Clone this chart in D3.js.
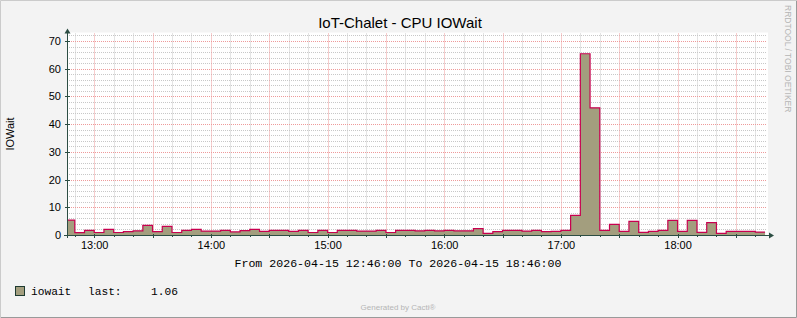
<!DOCTYPE html>
<html><head><meta charset="utf-8">
<script src="https://cdn.jsdelivr.net/npm/d3@7"></script>
<style>
html,body{margin:0;padding:0;background:#F3F3F3;}
svg{display:block;}
</style></head>
<body>
<svg id="c" width="797" height="318"></svg>
<script>
// ---- data ----
const title = "IoT-Chalet - CPU IOWait";
const yLabel = "IOWait";
const seriesName = "iowait";
const lastLabel = "last:";
const lastValue = "1.06";
const periodText = "From 2026-04-15 12:46:00 To 2026-04-15 18:46:00";
const startTime = new Date(2026, 3, 15, 12, 46);
const endTime = new Date(2026, 3, 15, 18, 46);
const firstBucketEnd = new Date(2026, 3, 15, 12, 50);
const stepMinutes = 5;
// one value per 5-minute bucket, 12:45-12:50 ... 18:40-18:45
const iowait = [
  5.4, 0.85, 1.7, 0.9, 2.0, 0.9, 1.2, 1.5, 3.5, 1.2,
  3.1, 0.9, 1.7, 2.0, 1.4, 1.4, 1.7, 1.1, 1.6, 2.0,
  1.3, 1.7, 1.7, 1.3, 1.7, 0.9, 1.7, 0.9, 1.7, 1.7,
  1.4, 1.4, 1.7, 0.9, 1.7, 1.7, 1.5, 1.7, 1.5, 1.7,
  1.5, 1.5, 2.3, 0.6, 1.2, 1.7, 1.7, 1.4, 1.7, 1.2,
  1.3, 1.7, 7.1, 65.4, 45.9, 1.7, 3.85, 1.3, 4.9, 0.95,
  1.3, 1.7, 5.3, 1.3, 5.3, 0.95, 4.5, 0.6, 1.3, 1.3,
  1.3, 1.06
];
const yTicks = [0, 10, 20, 30, 40, 50, 60, 70];
const yMax = 72.7;

// ---- layout ----
const W = 797, H = 318;
const L = 67, R = 767, T = 33.5, B = 235;
const svg = d3.select("#c");
const sans = "'Liberation Sans', Arial, sans-serif";
const mono = "'Liberation Mono', 'DejaVu Sans Mono', monospace";

// border
svg.append("rect").attr("x",0).attr("y",0).attr("width",W).attr("height",H).attr("fill","#F3F3F3");
svg.append("path").attr("d",`M0.5,${H}V0.5H${W}`).attr("stroke","#CBCBCB").attr("fill","none").attr("stroke-width",1);
svg.append("path").attr("d",`M1,${H-0.5}H${W-0.5}V1`).attr("stroke","#999999").attr("fill","none").attr("stroke-width",1);

const x = d3.scaleTime().domain([startTime, endTime]).range([L, R]);
const y = d3.scaleLinear().domain([0, yMax]).range([B, T]);

// canvas
svg.append("rect").attr("x",L).attr("y",T-1).attr("width",R-L+1).attr("height",B-T+1).attr("fill","#FFFFFF");

// grid
const g = svg.append("g");
const minorY = d3.range(2, yMax, 2).filter(v => v % 10 !== 0);
g.selectAll(".hy").data(minorY).join("line")
  .attr("x1",L).attr("x2",R).attr("y1",d=>Math.round(y(d))+0.5).attr("y2",d=>Math.round(y(d))+0.5)
  .attr("stroke","#C8C8C8").attr("stroke-dasharray","1,1");
const minorX = d3.timeMinute.every(10).range(startTime, endTime).filter(d => d.getMinutes() % 30 !== 0);
g.selectAll(".vx").data(minorX).join("line")
  .attr("y1",T).attr("y2",B).attr("x1",d=>Math.round(x(d))+0.5).attr("x2",d=>Math.round(x(d))+0.5)
  .attr("stroke","#C8C8C8").attr("stroke-dasharray","1,1");
g.selectAll(".hY").data(yTicks.filter(v=>v>0)).join("line")
  .attr("x1",L).attr("x2",R).attr("y1",d=>Math.round(y(d))+0.5).attr("y2",d=>Math.round(y(d))+0.5)
  .attr("stroke","#EE9A9A").attr("stroke-dasharray","1,1");
const majorX = d3.timeMinute.every(30).range(startTime, endTime);
g.selectAll(".vX").data(majorX).join("line")
  .attr("y1",T).attr("y2",B).attr("x1",d=>Math.round(x(d))+0.5).attr("x2",d=>Math.round(x(d))+0.5)
  .attr("stroke","#EE9A9A").attr("stroke-dasharray","1,1");

// data
const pts = iowait.map((v, i) => ({
  t: i === 0 ? startTime : d3.timeMinute.offset(firstBucketEnd, stepMinutes * (i - 1)),
  v
}));
pts.push({ t: d3.timeMinute.offset(firstBucketEnd, stepMinutes * (iowait.length - 1)), v: iowait[iowait.length - 1] });

const area = d3.area().curve(d3.curveStepAfter).x(d => x(d.t)).y0(y(0)).y1(d => y(d.v));
const line = d3.line().curve(d3.curveStepAfter).x(d => x(d.t)).y(d => y(d.v));
svg.append("path").datum(pts).attr("d", area).attr("fill", "#A39E7E");
svg.append("path").datum(pts).attr("d", line).attr("fill", "none").attr("stroke", "#C8004F").attr("stroke-width", 1.2);

// axes lines & ticks
const axisColor = "#2C4D43";
const ax = svg.append("g");
ax.append("line").attr("x1",L-3).attr("x2",R+3).attr("y1",B+0.5).attr("y2",B+0.5).attr("stroke",axisColor);
ax.append("path").attr("d",`M${R+7},${B+0.5}L${R+2},${B-2.5}L${R+2},${B+3.5}Z`).attr("fill",axisColor);
ax.append("line").attr("x1",L+0.5).attr("x2",L+0.5).attr("y1",B+3).attr("y2",T-1).attr("stroke",axisColor);
ax.append("path").attr("d",`M${L+0.5},${T-5}L${L-2.5},${T}L${L+3.5},${T}Z`).attr("fill",axisColor);
ax.selectAll(".ty").data(yTicks).join("line")
  .attr("x1",L-2).attr("x2",L+3).attr("y1",d=>Math.round(y(d))+0.5).attr("y2",d=>Math.round(y(d))+0.5).attr("stroke",axisColor);
ax.selectAll(".tx").data(majorX).join("line")
  .attr("y1",B-1).attr("y2",B+3).attr("x1",d=>Math.round(x(d))+0.5).attr("x2",d=>Math.round(x(d))+0.5).attr("stroke",axisColor);
ax.selectAll(".tx2").data(minorX).join("line")
  .attr("y1",B).attr("y2",B+2).attr("x1",d=>Math.round(x(d))+0.5).attr("x2",d=>Math.round(x(d))+0.5).attr("stroke",axisColor);

// tick labels via d3 axes
const yAxis = d3.axisLeft(y).tickValues(yTicks).tickSize(0).tickPadding(6).tickFormat(d3.format("d"));
const ya = svg.append("g").attr("transform",`translate(${L},0)`).call(yAxis);
ya.select(".domain").remove();
ya.selectAll("text").attr("font-family",sans).attr("font-size",11).attr("fill","#000");

const hours = d3.timeHour.every(1).range(startTime, endTime);
const xAxis = d3.axisBottom(x).tickValues(hours).tickSize(0).tickPadding(6).tickFormat(d3.timeFormat("%H:%M"));
const xa = svg.append("g").attr("transform",`translate(0,${B})`).call(xAxis);
xa.select(".domain").remove();
xa.selectAll("text").attr("font-family",sans).attr("font-size",11).attr("fill","#000");

// texts
svg.append("text").attr("x",400).attr("y",28).attr("text-anchor","middle")
  .attr("font-family",sans).attr("font-size",15).attr("fill","#000").text(title);
svg.append("text").attr("transform","translate(14,134) rotate(-90)").attr("text-anchor","middle")
  .attr("font-family",sans).attr("font-size",11).attr("fill","#000").text(yLabel);
svg.append("text").attr("x",398).attr("y",266.5).attr("text-anchor","middle")
  .attr("font-family",mono).attr("font-size",11.6).attr("fill","#000").attr("xml:space","preserve").text(periodText);

// legend
svg.append("rect").attr("x",15.5).attr("y",286.5).attr("width",9).attr("height",9)
  .attr("fill","#A39E7E").attr("stroke","#1E3A30");
svg.append("text").attr("x",31).attr("y",295).attr("font-family",mono).attr("font-size",11.2).attr("fill","#000").text(seriesName);
svg.append("text").attr("x",88).attr("y",295).attr("font-family",mono).attr("font-size",11.2).attr("fill","#000").text(lastLabel);
svg.append("text").attr("x",151).attr("y",295).attr("font-family",mono).attr("font-size",11.2).attr("fill","#000").text(lastValue);

svg.append("text").attr("x",398).attr("y",310).attr("text-anchor","middle")
  .attr("font-family",sans).attr("font-size",8).attr("fill","#B5B5B5").text("Generated by Cacti®");
svg.append("text").attr("transform","translate(784.5,5) rotate(90)").attr("text-anchor","start")
  .attr("font-family",sans).attr("font-size",8.5).attr("fill","#B5B5B5").text("RRDTOOL / TOBI OETIKER");
</script>
</body></html>
